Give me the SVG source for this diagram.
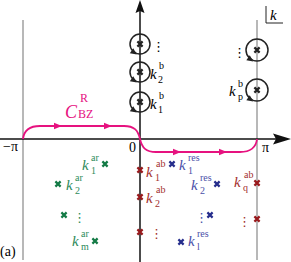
<svg xmlns="http://www.w3.org/2000/svg" xmlns:xlink="http://www.w3.org/1999/xlink" width="291" height="262" viewBox="0 0 291 262">
<style>
.k{font-family:"Liberation Serif",serif;font-style:italic;font-size:15px}
.s{font-family:"Liberation Serif",serif;font-size:10px}
.r{font-family:"Liberation Serif",serif;font-size:14px}
.d{font-family:"DejaVu Sans",sans-serif;font-size:13px}
.g{fill:#2e8b5a}.gx{stroke:#137a45}
.b{fill:#4a50a8}.bx{stroke:#252d8c}
.m{fill:#a3302e}.mx{stroke:#98191c}
.x{stroke-width:2.2;fill:none;stroke-linecap:butt}
.c{fill:none;stroke:#222;stroke-width:1.5}
.gray{stroke:#a0a0a0;stroke-width:1.5;fill:none}
</style>
<defs>
<path id="xm" d="M-2.6,-2.6L2.6,2.6M-2.6,2.6L2.6,-2.6"/>
<path id="ah" d="M3.5,0L-3,-3L-3,3Z" fill="#222"/>
<path id="pa" d="M4,0L-4,-3.3L-4,3.3Z" fill="#e6127f"/>
</defs>

<g id="guides">
<line class="gray" x1="23" y1="20" x2="23" y2="260"/>
<line class="gray" x1="257" y1="20" x2="257" y2="260"/>
</g>

<g id="axes">
<line x1="0" y1="139" x2="276" y2="139" stroke="#111" stroke-width="1.5"/>
<path d="M291,139L273,133.5L276,139L273,144.5Z" fill="#111"/>
<line x1="140" y1="10" x2="140" y2="262" stroke="#111" stroke-width="1.5"/>
<path d="M140,0L135.5,13L140,11L144.5,13Z" fill="#111"/>
<text class="r" x="3" y="151">−π</text>
<text class="r" x="129" y="152">0</text>
<text class="r" x="262" y="152">π</text>
<text class="r" x="0" y="256">(a)</text>
</g>

<g id="klabel">
<path d="M266,6V23H283" fill="none" stroke="#222" stroke-width="1"/>
<text class="k" x="270" y="20">k</text>
</g>

<g id="connectors">
<path d="M23,139C24,130 30,126 40,126H124C134,126 138,130 140,139C142,148 146,152 156,152H240C250,152 256,148 257,139" fill="none" stroke="#e6127f" stroke-width="1.8"/>
<use xlink:href="#pa" transform="translate(58,126)"/>
<use xlink:href="#pa" transform="translate(108,126)"/>
<use xlink:href="#pa" transform="translate(177,152)"/>
<use xlink:href="#pa" transform="translate(223,152)"/>
</g>

<g id="cbz">
<text style="font-family:'Liberation Serif',serif;font-style:italic;font-size:18px;fill:#e6127f" x="65" y="118">C</text>
<text style="font-family:'Liberation Serif',serif;font-size:12px;fill:#e6127f" x="80" y="102">R</text>
<text style="font-family:'Liberation Serif',serif;font-size:12px;fill:#e6127f" x="78" y="118">BZ</text>
</g>

<g id="bound-left">
<circle class="c" cx="140" cy="44" r="10"/>
<use xlink:href="#xm" class="x" stroke="#222" transform="translate(140,44)"/>
<use xlink:href="#ah" transform="translate(134,52.5) rotate(35)"/>
<text class="d" x="152" y="51">⋮</text>
</g>
<g id="k2b">
<circle class="c" cx="140" cy="72" r="10"/>
<use xlink:href="#xm" class="x" stroke="#222" transform="translate(140,72)"/>
<use xlink:href="#ah" transform="translate(134,80.5) rotate(35)"/>
<text class="k" x="150" y="79">k</text>
<text class="s" x="159" y="69">b</text>
<text class="s" x="158" y="83">2</text>
</g>
<g id="k1b">
<circle class="c" cx="140" cy="102" r="10"/>
<use xlink:href="#xm" class="x" stroke="#222" transform="translate(140,102)"/>
<use xlink:href="#ah" transform="translate(134,110.5) rotate(35)"/>
<text class="k" x="150" y="109">k</text>
<text class="s" x="159" y="99">b</text>
<text class="s" x="158" y="113">1</text>
</g>
<g id="bound-right">
<circle class="c" cx="257" cy="50" r="11"/>
<use xlink:href="#xm" class="x" stroke="#222" transform="translate(257,50)"/>
<use xlink:href="#ah" transform="translate(250.5,59.5) rotate(35)"/>
<text class="d" x="233" y="57">⋮</text>
</g>
<g id="kpb">
<circle class="c" cx="257" cy="90" r="11"/>
<use xlink:href="#xm" class="x" stroke="#222" transform="translate(257,90)"/>
<use xlink:href="#ah" transform="translate(250.5,99.5) rotate(35)"/>
<text class="k" x="229" y="96">k</text>
<text class="s" x="238" y="87">b</text>
<text class="s" x="238" y="100">p</text>
</g>

<g id="k1ar">
<use xlink:href="#xm" class="x gx" transform="translate(105,164)"/>
<text class="k g" x="82" y="170">k</text>
<text class="s g" x="91" y="161">ar</text>
<text class="s g" x="91" y="174">1</text>
</g>
<g id="k2ar">
<use xlink:href="#xm" class="x gx" transform="translate(58,184)"/>
<text class="k g" x="66" y="190">k</text>
<text class="s g" x="75" y="181">ar</text>
<text class="s g" x="75" y="194">2</text>
</g>
<g id="kdotsar">
<use xlink:href="#xm" class="x gx" transform="translate(64,215)"/>
<text class="d g" x="73" y="222">⋮</text>
</g>
<g id="kmar">
<use xlink:href="#xm" class="x gx" transform="translate(95,241)"/>
<text class="k g" x="72" y="246">k</text>
<text class="s g" x="81" y="237">ar</text>
<text class="s g" x="81" y="250">m</text>
</g>

<g id="k1ab">
<use xlink:href="#xm" class="x mx" transform="translate(140,170)"/>
<text class="k m" x="146" y="177">k</text>
<text class="s m" x="156" y="167">ab</text>
<text class="s m" x="155" y="181">1</text>
</g>
<g id="k2ab">
<use xlink:href="#xm" class="x mx" transform="translate(140,197)"/>
<text class="k m" x="146" y="203">k</text>
<text class="s m" x="156" y="193">ab</text>
<text class="s m" x="155" y="207">2</text>
</g>
<g id="kdotsab">
<use xlink:href="#xm" class="x mx" transform="translate(140,232)"/>
<text class="d m" x="150" y="238">⋮</text>
</g>
<g id="kqab">
<use xlink:href="#xm" class="x mx" transform="translate(257,183)"/>
<text class="k m" x="234" y="187">k</text>
<text class="s m" x="244" y="178">ab</text>
<text class="s m" x="243" y="191">q</text>
</g>
<g id="kdotsab2">
<use xlink:href="#xm" class="x mx" transform="translate(257,219)"/>
<text class="d m" x="238" y="226">⋮</text>
</g>

<g id="k1res">
<use xlink:href="#xm" class="x bx" transform="translate(172,164)"/>
<text class="k b" x="179" y="170">k</text>
<text class="s b" x="188" y="161">res</text>
<text class="s b" x="188" y="174">1</text>
</g>
<g id="k2res">
<use xlink:href="#xm" class="x bx" transform="translate(217,184)"/>
<text class="k b" x="191" y="190">k</text>
<text class="s b" x="200" y="181">res</text>
<text class="s b" x="200" y="194">2</text>
</g>
<g id="kdotsres">
<use xlink:href="#xm" class="x bx" transform="translate(210,215)"/>
<text class="d b" x="195" y="222">⋮</text>
</g>
<g id="klres">
<use xlink:href="#xm" class="x bx" transform="translate(181,242)"/>
<text class="k b" x="188" y="246">k</text>
<text class="s b" x="197" y="237">res</text>
<text class="s b" x="197" y="250">l</text>
</g>
</svg>
